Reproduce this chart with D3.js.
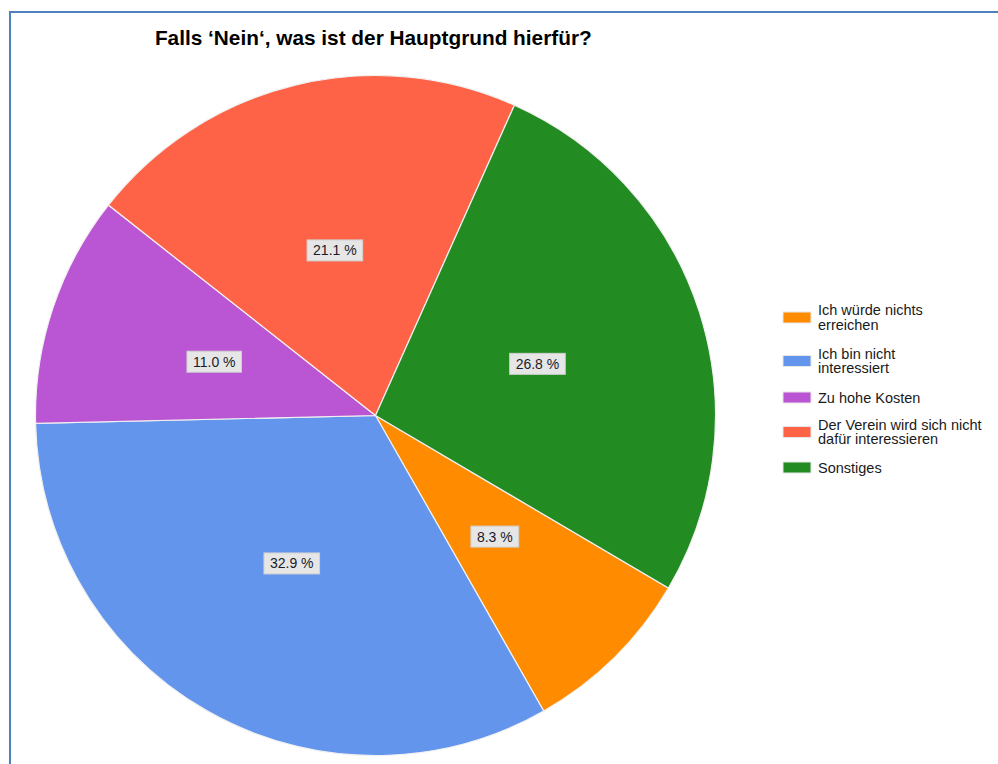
<!DOCTYPE html>
<html><head><meta charset="utf-8">
<script src="https://cdn.jsdelivr.net/npm/d3@7"></script>
<style>html,body{margin:0;padding:0;background:#fff;overflow:hidden}</style>
</head><body>
<svg id="chart" width="998" height="764"></svg>
<script>
const titleText = "Falls \u2018Nein\u2018, was ist der Hauptgrund hierf\u00fcr?";
const categories = ["Ich w\u00fcrde nichts erreichen", "Ich bin nicht interessiert", "Zu hohe Kosten", "Der Verein wird sich nicht daf\u00fcr interessieren", "Sonstiges"];
const legendLines = [["Ich w\u00fcrde nichts", "erreichen"], ["Ich bin nicht", "interessiert"], ["Zu hohe Kosten"], ["Der Verein wird sich nicht", "daf\u00fcr interessieren"], ["Sonstiges"]];
const values = [8.3, 32.9, 11.0, 21.1, 26.8];
const colors = ["#FF8C00", "#6495ED", "#BA55D3", "#FF6347", "#228B22"];

const svg = d3.select("#chart");
const font = "'Liberation Sans', Arial, sans-serif";

// frame
svg.append("rect").attr("x", 10).attr("y", 12).attr("width", 1000).attr("height", 800)
  .attr("fill", "none").attr("stroke", "#4F81BD").attr("stroke-width", 2);

svg.append("text").attr("x", 373.3).attr("y", 45).attr("text-anchor", "middle")
  .attr("font-family", font).attr("font-weight", "bold").attr("font-size", 20.8)
  .attr("fill", "#000").text(titleText);

const cx = 375.5, cy = 415.5, R = 340;
const startDeg = 120.5;
const pie = d3.pie().sort(null).value(d => d)
  .startAngle(startDeg * Math.PI / 180).endAngle(startDeg * Math.PI / 180 + 2 * Math.PI);
const arcs = pie(values);
const arc = d3.arc().innerRadius(0).outerRadius(R);
const labelArc = d3.arc().innerRadius(R * 0.5).outerRadius(R * 0.5);

const g = svg.append("g").attr("transform", `translate(${cx},${cy})`);
g.selectAll("path").data(arcs).join("path")
  .attr("d", arc).attr("fill", (d, i) => colors[i])
  .attr("stroke", "#f0f0f0").attr("stroke-width", 1.2);

const lg = g.selectAll("g.lbl").data(arcs).join("g").attr("class", "lbl")
  .attr("transform", d => `translate(${labelArc.centroid(d)})`);
lg.each(function(d) {
  const s = d3.select(this);
  const t = s.append("text").attr("text-anchor", "middle").attr("dy", "0.36em")
    .attr("font-family", font).attr("font-size", 14).attr("fill", "#1a1a2a")
    .text(d.value.toFixed(1) + " %");
  const w = t.node().getComputedTextLength();
  s.insert("rect", "text").attr("x", -w / 2 - 6).attr("y", -10.5).attr("width", w + 12).attr("height", 21)
    .attr("fill", "#e6e6e6").attr("stroke", "#d0d0d0").attr("stroke-width", 1);
});

// legend
const legY = [317.5, 361, 397.5, 432, 467.5];
const leg = svg.append("g");
categories.forEach((c, i) => {
  const item = leg.append("g").attr("transform", `translate(783,${legY[i]})`);
  item.append("rect").attr("x", 0).attr("y", -5.5).attr("width", 28).attr("height", 11)
    .attr("fill", colors[i]).attr("stroke", "#e8e8e8").attr("stroke-width", 1);
  const lines = legendLines[i];
  const t = item.append("text").attr("font-family", font).attr("font-size", 14.5).attr("fill", "#1a1a1a");
  lines.forEach((ln, j) => {
    t.append("tspan").attr("x", 35).attr("y", (lines.length === 1 ? 5 : -2.3) + j * 14.5).text(ln);
  });
});
</script>
</body></html>
